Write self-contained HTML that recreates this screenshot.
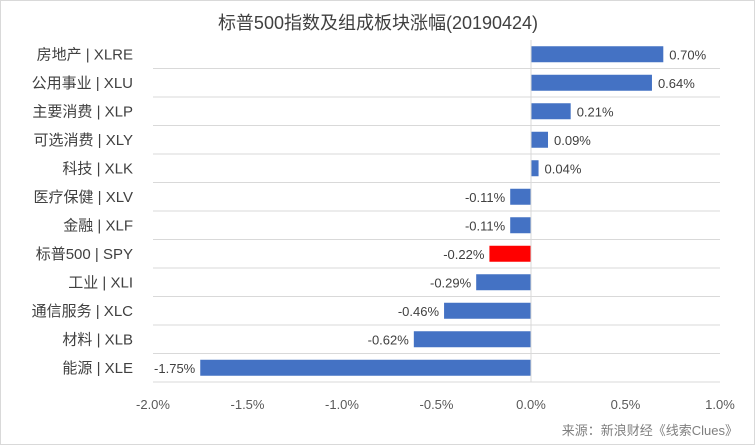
<!DOCTYPE html>
<html><head><meta charset="utf-8"><style>
body{margin:0;background:#fff;}
svg{display:block;font-family:"Liberation Sans","Noto Sans CJK SC",sans-serif;}
</style></head><body>
<svg width="755" height="445">
<rect x="0.5" y="0.5" width="754" height="444" fill="#fff" stroke="#d9d9d9"/>
<text x="378" y="29" text-anchor="middle" font-size="18" fill="#404040">标普500指数及组成板块涨幅(20190424)</text>
<g id="plot"></g>
<text x="738" y="435" text-anchor="end" font-size="13" fill="#7f7f7f">来源：新浪财经《线索Clues》</text>
</svg>
<script>
const categories=["房地产 | XLRE","公用事业 | XLU","主要消费 | XLP","可选消费 | XLY","科技 | XLK","医疗保健 | XLV","金融 | XLF","标普500 | SPY","工业 | XLI","通信服务 | XLC","材料 | XLB","能源 | XLE"];
const values=[0.70,0.64,0.21,0.09,0.04,-0.11,-0.11,-0.22,-0.29,-0.46,-0.62,-1.75];
const valueLabels=["0.70%","0.64%","0.21%","0.09%","0.04%","-0.11%","-0.11%","-0.22%","-0.29%","-0.46%","-0.62%","-1.75%"];
const ticks=[-2.0,-1.5,-1.0,-0.5,0.0,0.5,1.0];
const tickLabels=["-2.0%","-1.5%","-1.0%","-0.5%","0.0%","0.5%","1.0%"];
const highlight="标普500 | SPY";
const NS="http://www.w3.org/2000/svg";
const g=document.getElementById("plot");
const x0=153,x1=720,topY=40,rowH=28.5,barH=16;
const xs=v=>x0+(v-ticks[0])/(ticks[ticks.length-1]-ticks[0])*(x1-x0);
const ys=i=>topY+i*rowH;
function mk(t,a){const e=document.createElementNS(NS,t);for(const k in a)e.setAttribute(k,a[k]);g.appendChild(e);return e;}
for(let i=1;i<=categories.length;i++){
 const l=mk("line",{x1:x0,x2:x1,y1:ys(i),y2:ys(i),stroke:"#d9d9d9","stroke-width":1});
 
 
}
categories.forEach((c,i)=>{
 const v=values[i],cy=ys(i)+rowH/2;
 const xa=xs(Math.min(0,v)),xb=xs(Math.max(0,v));
 const r=mk("rect",{x:xa,y:cy-barH/2,width:xb-xa,height:barH,fill:c===highlight?"#ff0000":"#4472c4"});
 
 
 const t=mk("text",{x:133,y:cy+5,"text-anchor":"end","font-size":15,fill:"#404040"});
 t.textContent=c;
 
 
 const vl=mk("text",{x:v>=0?xb+6:xa-5,y:cy+5,"text-anchor":v>=0?"start":"end","font-size":13,fill:"#404040"});
 vl.textContent=valueLabels[i];
 
 
});
const ax=mk("line",{x1:xs(0),x2:xs(0),y1:topY,y2:ys(categories.length),stroke:"#d9d9d9","stroke-width":1});


ticks.forEach((tv,i)=>{
 const t=mk("text",{x:xs(tv),y:409,"text-anchor":"middle","font-size":13,fill:"#595959"});
 t.textContent=tickLabels[i];
 
 
});
</script>
</body></html>
